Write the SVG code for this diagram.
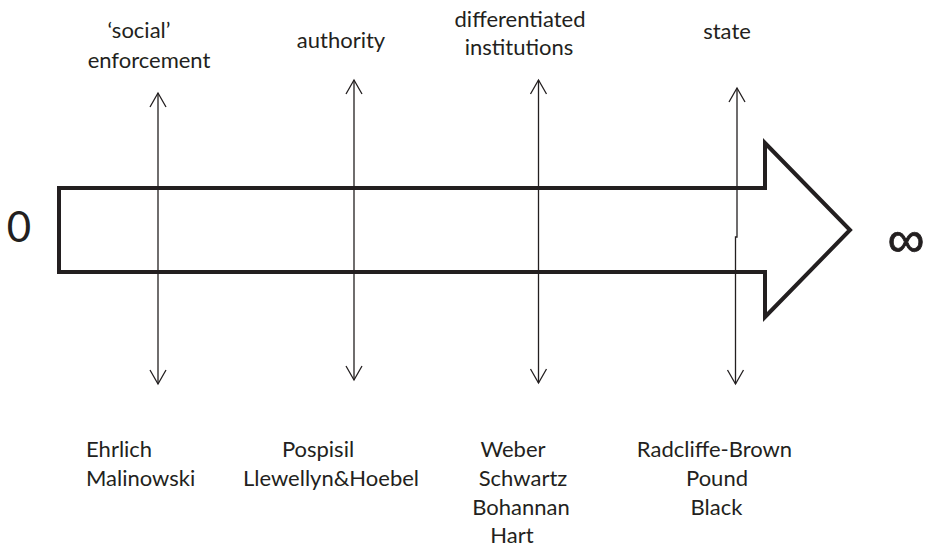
<svg xmlns="http://www.w3.org/2000/svg" width="926" height="548" viewBox="0 0 926 548">
<style>
.t{font-family:Lato,"Open Sans","Liberation Sans",sans-serif;font-size:22px;fill:#231f20;text-anchor:middle}
.ax{fill:none;stroke:#231f20;stroke-width:1.3}
.big{fill:#fff;stroke:#231f20;stroke-width:4;stroke-linejoin:miter}
</style>
<defs>
<marker id="v" viewBox="-16 -10 18 20" refX="0" refY="0" markerWidth="18" markerHeight="20" markerUnits="userSpaceOnUse" orient="auto-start-reverse" overflow="visible">
<path d="M-14,-8 L0,0 L-14,8" fill="none" stroke="#231f20" stroke-width="1.3"/>
</marker>
</defs>
<g id="scale">
<path class="big" d="M59,188 H765 V143 L850,230 L765,317 V272 H59 Z"/>
<text class="t" x="19" y="242" style="font-size:42px">0</text>
<text class="t" x="906" y="257" style="font-family:'Liberation Sans',sans-serif;font-size:52px;stroke:#231f20;stroke-width:0.8">∞</text>
</g>
<g id="connectors">
<path class="ax" d="M158,93 V384" marker-start="url(#v)" marker-end="url(#v)"/>
<path class="ax" d="M354,80 V380" marker-start="url(#v)" marker-end="url(#v)"/>
<path class="ax" d="M538.5,80 V383" marker-start="url(#v)" marker-end="url(#v)"/>
<path class="ax" d="M737,88 V237 H735.5 V384" marker-start="url(#v)" marker-end="url(#v)"/>
</g>
<g id="social">
<text class="t" x="139" y="38">‘social’</text>
<text class="t" x="149" y="68">enforcement</text>
<text class="t" x="86" y="457" style="text-anchor:start">Ehrlich</text>
<text class="t" x="86" y="486" style="text-anchor:start">Malinowski</text>
</g>
<g id="authority">
<text class="t" x="341" y="48">authority</text>
<text class="t" x="318" y="457">Pospisil</text>
<text class="t" x="331" y="486">Llewellyn&amp;Hoebel</text>
</g>
<g id="institutions">
<text class="t" x="520" y="27">differentiated</text>
<text class="t" x="519" y="55">institutions</text>
<text class="t" x="513" y="457">Weber</text>
<text class="t" x="523" y="486">Schwartz</text>
<text class="t" x="521" y="515">Bohannan</text>
<text class="t" x="512" y="543">Hart</text>
</g>
<g id="state">
<text class="t" x="727" y="39">state</text>
<text class="t" x="714.5" y="457">Radcliffe-Brown</text>
<text class="t" x="717" y="486">Pound</text>
<text class="t" x="716.5" y="515">Black</text>
</g>
</svg>
